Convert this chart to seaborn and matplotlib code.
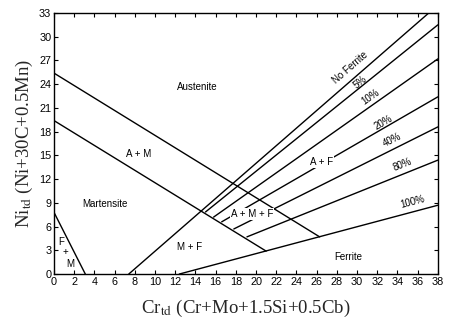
import numpy as np
import pandas as pd
import matplotlib
matplotlib.use("Agg")
import matplotlib.pyplot as plt
import seaborn as sns

# ---- data (Schaeffler-type diagram) ----
line_names = ["F+M", "A+M upper", "M lower", "No Ferrite", "5%", "10%", "20%", "40%", "80%", "100%"]
x_start = [0.0, 0.0, 0.0, 7.4, 15.0, 15.8, 16.6, 17.8, 19.1, 12.4]
y_start = [7.8, 25.4, 19.4, 0.0, 7.85, 7.2, 6.6, 5.7, 4.7, 0.0]
x_end = [3.1, 26.3, 21.0, 37.1, 38.0, 38.0, 38.0, 38.0, 38.0, 38.0]
y_end = [0.0, 4.7, 2.9, 33.0, 31.5, 27.2, 22.4, 18.6, 14.4, 8.7]

region_labels = ["Austenite", "A + M", "Martensite", "F", "+", "M", "M + F", "A + M + F", "A + F", "Ferrite"]
region_x = [14.2, 8.4, 5.0, 0.7, 1.1, 1.6, 13.4, 19.6, 26.5, 29.1]
region_y = [23.7, 15.2, 8.9, 4.1, 2.8, 1.3, 3.4, 7.6, 14.2, 2.2]

ferrite_labels = ["No Ferrite", "5%", "10%", "20%", "40%", "80%", "100%"]
ferrite_x = [29.3, 30.3, 31.3, 32.6, 33.5, 34.5, 35.5]
ferrite_y = [26.1, 24.3, 22.4, 19.1, 17.0, 13.8, 9.1]

x_ticks = list(range(0, 39, 2))
y_ticks = list(range(0, 34, 3))

# ---- style ----
sns.set_style("ticks")
plt.rcParams["font.family"] = ["Liberation Sans", "DejaVu Sans"]
plt.rcParams["mathtext.fontset"] = "stix"

fig = plt.figure(figsize=(4.5, 3.33), dpi=100)
ax = fig.add_axes([0.12, 0.177, 0.853, 0.784])

rows = []
for n, xs, ys, xe, ye in zip(line_names, x_start, y_start, x_end, y_end):
    rows.append({"line": n, "x": xs, "y": ys})
    rows.append({"line": n, "x": xe, "y": ye})
df = pd.DataFrame(rows)

sns.lineplot(data=df, x="x", y="y", units="line", estimator=None, sort=False,
             color="black", linewidth=1.0, ax=ax, legend=False)

ax.set_xlim(0, 38)
ax.set_ylim(0, 33)
ax.set_xticks(x_ticks)
ax.set_yticks(y_ticks)
ax.tick_params(direction="in", length=3, width=0.8, labelsize=7.8, pad=2,
               top=True, right=True, labeltop=False, labelright=False, colors="black")
for s in ax.spines.values():
    s.set_linewidth(1.0)
    s.set_color("black")

ax.set_xlabel(r"Cr$_{\rm td}$ (Cr+Mo+1.5Si+0.5Cb)", fontfamily="Liberation Serif",
              fontsize=13.5, labelpad=8)
ax.set_ylabel(r"Ni$_{\rm td}$ (Ni+30C+0.5Mn)", fontfamily="Liberation Serif",
              fontsize=13.5, labelpad=3)

boxed = {"A + M + F", "A + F"}
for t, x, y in zip(region_labels, region_x, region_y):
    kw = {}
    if t in boxed:
        kw["bbox"] = dict(facecolor="white", edgecolor="none", pad=0.6)
    ax.text(x, y, t, fontsize=7, ha="center", va="center", color="black", zorder=5, **kw)

idx = {n: i for i, n in enumerate(line_names)}
for t, x, y in zip(ferrite_labels, ferrite_x, ferrite_y):
    i = idx[t]
    slope = (y_end[i] - y_start[i]) / (x_end[i] - x_start[i])
    ang = np.degrees(np.arctan(slope))
    ax.text(x, y, t, fontsize=7, ha="center", va="center", rotation=ang,
            rotation_mode="anchor", transform_rotates_text=True, color="black")

fig.savefig("out.png", dpi=100)
